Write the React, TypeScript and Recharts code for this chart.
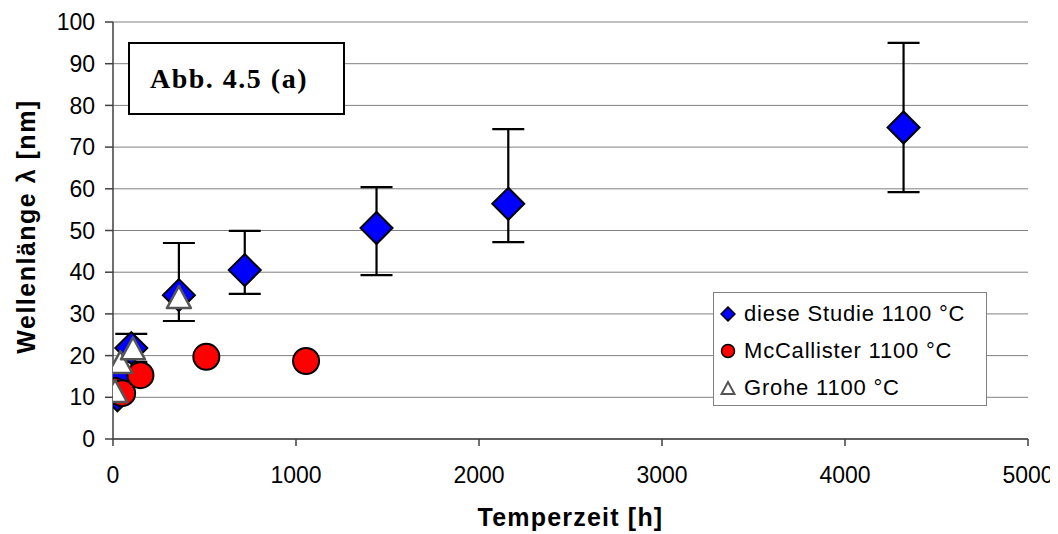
import React from 'react';
import { ScatterChart, Scatter, XAxis, YAxis, CartesianGrid, ErrorBar, Legend } from 'recharts';

const studyX = [24, 48, 100, 360, 720, 1440, 2160, 4320];
const studyY = [10.5, 14.5, 21.8, 34.5, 40.5, 50.6, 56.4, 74.7];
const studyLow: (number | null)[] = [null, null, 18.5, 28.3, 34.8, 39.3, 47.2, 59.2];
const studyHigh: (number | null)[] = [null, null, 25.2, 47.0, 49.9, 60.4, 74.3, 95.0];

const mcX = [10, 50, 150, 510, 1055];
const mcY = [11.5, 11.0, 15.3, 19.7, 18.7];

const groheX = [11, 40, 109, 360];
const groheY = [11.3, 18.2, 21.5, 33.8];

const xTicks = [0, 1000, 2000, 3000, 4000, 5000];
const yTicks = [0, 10, 20, 30, 40, 50, 60, 70, 80, 90, 100];

const seriesNames = ['diese Studie 1100 °C', 'McCallister 1100 °C', 'Grohe 1100 °C'];

const studyData = studyX.map((x, i) => {
  const lo = studyLow[i];
  const hi = studyHigh[i];
  const d: any = { x, y: studyY[i] };
  if (lo != null && hi != null) d.err = [studyY[i] - lo, hi - studyY[i]];
  return d;
});
const mcData = mcX.map((x, i) => ({ x, y: mcY[i] }));
const groheData = groheX.map((x, i) => ({ x, y: groheY[i] }));

const Diamond = (props: any) => {
  const { cx, cy } = props;
  const r = 16;
  return (
    <polygon
      points={`${cx},${cy - r} ${cx + r},${cy} ${cx},${cy + r} ${cx - r},${cy}`}
      fill="#0000FF"
      stroke="#000"
      strokeWidth={2}
    />
  );
};

const Circle = (props: any) => {
  const { cx, cy } = props;
  return <circle cx={cx} cy={cy} r={13} fill="#FF0000" stroke="#000" strokeWidth={2} />;
};

const Triangle = (props: any) => {
  const { cx, cy } = props;
  return (
    <polygon
      points={`${cx},${cy - 12} ${cx + 12},${cy + 10} ${cx - 12},${cy + 10}`}
      fill="#FFFFFF"
      stroke="#555"
      strokeWidth={2.5}
      strokeLinejoin="round"
    />
  );
};

const legendIcons = [
  (
    <svg width={16} height={16} key="d">
      <polygon points="8,1 15,8 8,15 1,8" fill="#0000FF" stroke="#000" strokeWidth={1.5} />
    </svg>
  ),
  (
    <svg width={16} height={16} key="c">
      <circle cx={8} cy={8} r={6.5} fill="#FF0000" stroke="#000" strokeWidth={1.5} />
    </svg>
  ),
  (
    <svg width={16} height={16} key="t">
      <polygon points="8,2 14.5,14 1.5,14" fill="#fff" stroke="#555" strokeWidth={2} />
    </svg>
  ),
];

const LegendBox = () => (
  <div
    style={{
      width: 272,
      height: 110,
      border: '1px solid #808080',
      background: '#fff',
      boxSizing: 'content-box',
      paddingTop: 2,
    }}
  >
    {seriesNames.map((n, i) => (
      <div
        key={n}
        style={{
          display: 'flex',
          alignItems: 'center',
          height: 37,
          paddingLeft: 6,
          fontFamily: '"Liberation Sans", Arial, sans-serif',
          fontSize: 22,
          letterSpacing: 0.8,
          color: '#000',
          whiteSpace: 'nowrap',
        }}
      >
        <span style={{ width: 24, display: 'inline-flex', alignItems: 'center' }}>{legendIcons[i]}</span>
        {n}
      </div>
    ))}
  </div>
);

const YLabel = (props: any) => {
  const vb = props.viewBox || {};
  const cx = vb.x + 18;
  const cy = vb.y + vb.height / 2 - 4;
  return (
    <text
      x={cx}
      y={cy}
      transform={`rotate(-90, ${cx}, ${cy})`}
      textAnchor="middle"
      dominantBaseline="central"
      fontFamily='"Liberation Sans", Arial, sans-serif'
      fontWeight="bold"
      fontSize={25}
      letterSpacing={1.5}
      fill="#000"
    >
      Wellenlänge λ [nm]
    </text>
  );
};

const XLabel = (props: any) => {
  const vb = props.viewBox || {};
  return (
    <text
      x={vb.x + vb.width / 2}
      y={vb.y + vb.height - 8}
      textAnchor="middle"
      fontFamily='"Liberation Sans", Arial, sans-serif'
      fontWeight="bold"
      fontSize={25}
      letterSpacing={1.2}
      fill="#000"
    >
      Temperzeit [h]
    </text>
  );
};

const tickStyle = {
  fontFamily: '"Liberation Sans", Arial, sans-serif',
  fontSize: 23,
  fill: '#000',
};

export default function App() {
  return (
    <div style={{ position: 'relative', width: 1050, height: 526 }}>
      <ScatterChart
        width={1050}
        height={526}
        margin={{ top: 14, right: 30, bottom: 0, left: 0 }}
      >
        <CartesianGrid horizontal vertical={false} stroke="#808080" strokeWidth={1} />
        <XAxis
          type="number"
          dataKey="x"
          domain={[0, 5000]}
          ticks={xTicks}
          interval={0}
          height={95}
          tickSize={7}
          tickMargin={21}
          tick={tickStyle}
          axisLine={{ stroke: '#404040', strokeWidth: 1.5 }}
          tickLine={{ stroke: '#404040', strokeWidth: 1.5 }}
          label={<XLabel />}
          allowDataOverflow
        />
        <YAxis
          type="number"
          dataKey="y"
          domain={[0, 100]}
          ticks={yTicks}
          interval={0}
          width={105}
          tickSize={8}
          tickMargin={10}
          tick={tickStyle}
          axisLine={{ stroke: '#404040', strokeWidth: 1.5 }}
          tickLine={{ stroke: '#404040', strokeWidth: 1.5 }}
          label={<YLabel />}
          allowDataOverflow
        />
        <Legend
          layout="vertical"
          align="center"
          verticalAlign="middle"
          content={<LegendBox />}
          wrapperStyle={{ left: 705, top: 284, width: 274, height: 112 }}
        />
        <Scatter
          name={seriesNames[0]}
          data={studyData}
          shape={<Diamond />}
          isAnimationActive={false}
        >
          <ErrorBar dataKey="err" direction="y" width={16} stroke="#000" strokeWidth={2.2} />
        </Scatter>
        <Scatter name={seriesNames[1]} data={mcData} shape={<Circle />} isAnimationActive={false} />
        <Scatter name={seriesNames[2]} data={groheData} shape={<Triangle />} isAnimationActive={false} />
      </ScatterChart>
      <div
        style={{
          position: 'absolute',
          left: 120,
          top: 34,
          height: 69,
          border: '2px solid #000',
          background: '#fff',
          display: 'flex',
          alignItems: 'center',
          paddingLeft: 20,
          boxSizing: 'content-box',
          fontFamily: '"Liberation Serif", "Times New Roman", serif',
          fontWeight: 'bold',
          fontSize: 28,
          letterSpacing: 1.5,
          color: '#000',
          width: 193,
        }}
      >
        Abb. 4.5 (a)
      </div>
    </div>
  );
}
